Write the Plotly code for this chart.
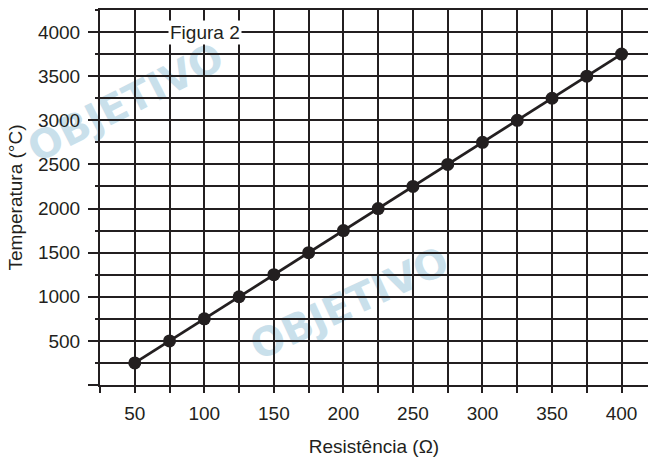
import plotly.graph_objects as go

resistencia = [50, 75, 100, 125, 150, 175, 200, 225, 250, 275, 300, 325, 350, 375, 400]
temperatura = [250, 500, 750, 1000, 1250, 1500, 1750, 2000, 2250, 2500, 2750, 3000, 3250, 3500, 3750]

x_tickvals = [25, 50, 75, 100, 125, 150, 175, 200, 225, 250, 275, 300, 325, 350, 375, 400]
x_ticktext = ["", "50", "", "100", "", "150", "", "200", "", "250", "", "300", "", "350", "", "400"]
y_tickvals = [0, 500, 1000, 1500, 2000, 2500, 3000, 3500, 4000]
y_ticktext = ["", "500", "1000", "1500", "2000", "2500", "3000", "3500", "4000"]

ink = "#231f20"
wm = "#c9e0eb"
font = "Liberation Sans, Arial, sans-serif"
fs = 19

fig = go.Figure()
fig.add_trace(go.Scatter(
    x=resistencia, y=temperatura, mode="lines+markers",
    line=dict(color=ink, width=2.8),
    marker=dict(color=ink, size=13),
    showlegend=False, cliponaxis=False,
))


def watermark(px, py, angle, size):
    return dict(
        type="rect", xref="paper", yref="paper", x0=px, x1=px, y0=py, y1=py,
        layer="below", line=dict(width=0), fillcolor="rgba(0,0,0,0)",
        label=dict(text="<b>OBJETIVO</b>", textangle=angle, textposition="middle center",
                   font=dict(family="DejaVu Sans, sans-serif", size=size, color=wm)),
    )


fig.update_layout(
    width=648, height=457,
    margin=dict(l=100, r=0, t=10, b=70),
    paper_bgcolor="white", plot_bgcolor="rgba(0,0,0,0)",
    font=dict(family=font, size=fs, color=ink),
    xaxis=dict(
        range=[25, 419], tickmode="array", tickvals=x_tickvals, ticktext=x_ticktext,
        showgrid=True, gridcolor=ink, gridwidth=2,
        ticks="outside", ticklen=6, tickwidth=2, tickcolor=ink,
        showline=True, linecolor=ink, linewidth=2, mirror=True,
        zeroline=False, ticklabelstandoff=4,
        title=dict(text="Resistência (Ω)", font=dict(size=fs), standoff=20),
    ),
    yaxis=dict(
        range=[0, 4250], tickmode="array", tickvals=y_tickvals, ticktext=y_ticktext,
        showgrid=True, gridcolor=ink, gridwidth=2,
        ticks="outside", ticklen=10, tickwidth=2, tickcolor=ink,
        minor=dict(dtick=250, tick0=0, ticks="outside", ticklen=3, tickwidth=2,
                   tickcolor=ink, showgrid=True, gridcolor=ink, gridwidth=2),
        showline=True, linecolor=ink, linewidth=2,
        zeroline=False, ticklabelstandoff=4,
        title=dict(text="Temperatura (°C)", font=dict(size=fs), standoff=10),
    ),
    shapes=[
        watermark(0.044, 0.761, -27, 40),
        watermark(0.4526, 0.2255, -25, 40),
    ],
    annotations=[
        dict(x=0.124, y=4000, xref="paper", yref="y", text="Figura 2", showarrow=False,
             bgcolor="white", font=dict(size=fs, color=ink), borderpad=1),
    ],
)

fig.write_html("out.html", config={"displayModeBar": False},
               post_script="document.body.style.margin='0';")
